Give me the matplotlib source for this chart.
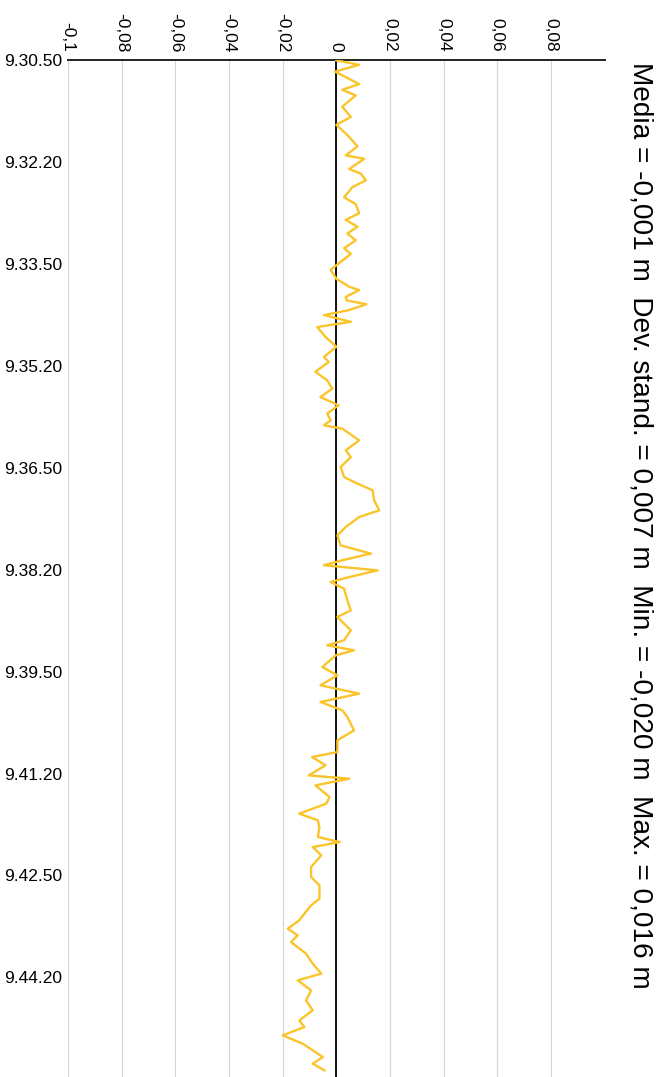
## Sea-level residual trace, drawn with time running down the page
## and the value axis across the top.

import numpy as np
import matplotlib.pyplot as plt
from matplotlib import font_manager
from matplotlib.ticker import FuncFormatter, FixedLocator

plt.rcParams['font.family'] = ['Liberation Sans', 'DejaVu Sans']

names = {f.name for f in font_manager.fontManager.ttflist}
narrow = 'Liberation Sans Narrow' if 'Liberation Sans Narrow' in names else 'Liberation Sans'

## start of the record (9.30.50) in seconds of the day
t0 = 9 * 3600 + 30 * 60 + 50

## seconds after t0 and residual in metres
secs = [0, 4, 10, 21, 26, 31, 41, 50, 57, 66, 76, 84, 87, 96, 100, 106, 112,
        121, 127, 135, 141, 147, 153, 159, 166, 171, 182, 185, 193, 200, 203,
        209, 212, 215.5, 221, 225, 231, 235.6, 244.4, 253, 262, 266.5, 275,
        282.7, 290, 297.4, 304.7, 312, 318, 322.4, 325.3, 335.7, 344.5, 350.4,
        359.3, 368, 372.5, 379.8, 388.7, 397.5, 403.4, 412.2, 419.6, 428.4,
        435.7, 441.6, 446, 450.5, 456.4, 460.8, 466.7, 477, 485.8, 491.7,
        503.5, 512.3, 516.7, 521.1, 525.5, 535.9, 543.2, 552, 559.4, 566.8,
        574.1, 580, 591.8, 600.6, 611, 615.4, 622.7, 631.6, 634.5, 640.4,
        650.7, 656.6, 665.4, 671.3, 677.2, 686, 690.5, 694.9, 702.2, 712.5,
        721.4, 728.7, 740.5, 746.4, 753.7, 759.6, 767, 772.9, 778.8, 789,
        797.9, 806.7, 812.6, 821.5, 830.3, 839.1, 848, 853.9, 861.2, 868.6,
        880.4, 886.2, 892.2]
resid = [0.0, 0.0085, -0.0005, 0.0085, 0.0022, 0.0072, 0.0022, 0.0054, 0.0,
         0.0041, 0.0079, 0.0035, 0.0104, 0.0048, 0.0091, 0.0110, 0.0060,
         0.0029, 0.0072, 0.0085, 0.0035, 0.0079, 0.0041, 0.0072, 0.0029,
         0.0054, -0.0005, -0.0021, 0.0, 0.0048, 0.0085, 0.0035, 0.0038,
         0.0112, 0.0041, -0.0046, 0.0054, -0.0071, -0.0040, 0.0, -0.0046,
         -0.0028, -0.0078, -0.0034, -0.0015, -0.0059, 0.0008, -0.0034,
         -0.0021, -0.0046, 0.0022, 0.0085, 0.0035, 0.0054, 0.0016, 0.0029,
         0.0066, 0.0135, 0.0141, 0.0160, 0.0085, 0.0035, 0.0004, 0.0016,
         0.0129, 0.0022, -0.0046, 0.0154, 0.0048, -0.0021, 0.0029, 0.0041,
         0.0054, 0.0004, 0.0054, 0.0029, -0.0034, 0.0066, -0.0002, -0.0052,
         0.0004, -0.0059, 0.0085, -0.0059, 0.0022, 0.0041, 0.0066, 0.0004,
         0.0004, -0.0090, -0.0040, -0.0103, 0.0048, -0.0078, -0.0025,
         -0.0038, -0.0138, -0.0069, -0.0063, -0.0069, 0.0013, -0.0088,
         -0.0056, -0.0094, -0.0094, -0.0063, -0.0063, -0.0094, -0.0119,
         -0.0138, -0.0181, -0.0144, -0.0169, -0.0113, -0.0088, -0.0056,
         -0.0144, -0.0094, -0.0113, -0.0088, -0.0138, -0.0119, -0.0200,
         -0.0125, -0.0050, -0.0088, -0.0044]

value_ticks = [-0.1, -0.08, -0.06, -0.04, -0.02, 0, 0.02, 0.04, 0.06, 0.08]
value_labels = ['-0,1', '-0,08', '-0,06', '-0,04', '-0,02', '0',
                '0,02', '0,04', '0,06', '0,08']
time_ticks = list(range(0, 811, 90))

stats = 'Media = -0,001 m  Dev. stand. = 0,007 m  Min. = -0,020 m  Max. = 0,016 m'


def clock(s, pos=None):
    s = int(round(s + t0))
    return "{}.{:02d}.{:02d}".format(s // 3600, (s // 60) % 60, s % 60)


fig = plt.figure(figsize=(6.66, 10.77), dpi=100)
ax = fig.add_axes([0.102, 0.0, 0.806, 0.944])

for v in value_ticks:
    ax.axvline(v, color='#d4d4d4', lw=0.8, zorder=1)
ax.axvline(0, color='black', lw=1.3, zorder=2)

ax.plot(resid, secs, color='#FAC42A', lw=1.7, zorder=3)

ax.set_xlim(-0.1, 0.1)
ax.set_ylim(898, 0)

ax.xaxis.tick_top()
ax.xaxis.set_major_locator(FixedLocator(value_ticks))
ax.set_xticklabels(value_labels)
ax.tick_params(axis='x', length=0, pad=6, labelrotation=-90)
for lab in ax.get_xticklabels():
    lab.set_verticalalignment('bottom')
    lab.set_family(narrow)
    lab.set_fontsize(12.5)

ax.yaxis.set_major_locator(FixedLocator(time_ticks))
ax.yaxis.set_major_formatter(FuncFormatter(clock))
ax.tick_params(axis='y', length=0, pad=4)
for lab in ax.get_yticklabels():
    lab.set_family(narrow)
    lab.set_fontsize(12.5)

for side in ['left', 'right', 'bottom']:
    ax.spines[side].set_visible(False)
ax.spines['top'].set_color('#222222')
ax.spines['top'].set_linewidth(1.4)

fig.text(0.961, 0.942, stats, rotation=-90, ha='center', va='top', fontsize=20.2)

fig.savefig('out.png', dpi=100, facecolor='white')
